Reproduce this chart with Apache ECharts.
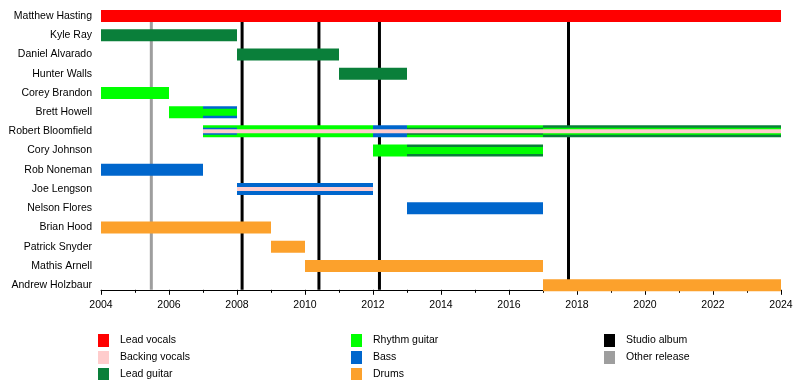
<!DOCTYPE html>
<html>
<head>
<meta charset="utf-8">
<script src="https://cdn.jsdelivr.net/npm/echarts@6/dist/echarts.min.js"></script>
<style>html,body{margin:0;padding:0;background:#fff}#c{width:800px;height:380px}</style>
</head>
<body>
<div id="c"></div>
<script>
const members = ["Matthew Hasting","Kyle Ray","Daniel Alvarado","Hunter Walls","Corey Brandon","Brett Howell","Robert Bloomfield","Cory Johnson","Rob Noneman","Joe Lengson","Nelson Flores","Brian Hood","Patrick Snyder","Mathis Arnell","Andrew Holzbaur"];
const roles = ["Lead vocals","Backing vocals","Lead guitar","Rhythm guitar","Bass","Drums"];
const roleColors = ["#FF0000","#FFCCCC","#0A7F3A","#00FF00","#0066CC","#FCA12C"];
const releaseTypes = ["Studio album","Other release"];
const releaseColors = ["#000000","#9E9E9E"];
const xTicks = [2004,2006,2008,2010,2012,2014,2016,2018,2020,2022,2024];

// [member, role, from, till]
const primaryBars = [
  ["Matthew Hasting","Lead vocals",2004,2024],
  ["Kyle Ray","Lead guitar",2004,2008],
  ["Daniel Alvarado","Lead guitar",2008,2011],
  ["Hunter Walls","Lead guitar",2011,2013],
  ["Corey Brandon","Rhythm guitar",2004,2006],
  ["Brett Howell","Rhythm guitar",2006,2007],
  ["Brett Howell","Bass",2007,2008],
  ["Robert Bloomfield","Rhythm guitar",2007,2012],
  ["Robert Bloomfield","Bass",2012,2013],
  ["Robert Bloomfield","Rhythm guitar",2013,2017],
  ["Robert Bloomfield","Lead guitar",2017,2024],
  ["Cory Johnson","Rhythm guitar",2012,2013],
  ["Cory Johnson","Lead guitar",2013,2017],
  ["Rob Noneman","Bass",2004,2007],
  ["Joe Lengson","Bass",2008,2012],
  ["Nelson Flores","Bass",2013,2017],
  ["Brian Hood","Drums",2004,2009],
  ["Patrick Snyder","Drums",2009,2010],
  ["Mathis Arnell","Drums",2010,2017],
  ["Andrew Holzbaur","Drums",2017,2024]
];
const secondaryBars = [
  ["Brett Howell","Rhythm guitar",2007,2008],
  ["Robert Bloomfield","Bass",2007,2008],
  ["Robert Bloomfield","Rhythm guitar",2008,2012],
  ["Robert Bloomfield","Bass",2012,2013],
  ["Robert Bloomfield","Lead guitar",2013,2017],
  ["Robert Bloomfield","Rhythm guitar",2017,2024],
  ["Cory Johnson","Rhythm guitar",2013,2017]
];
const backingBars = [
  ["Robert Bloomfield","Backing vocals",2007,2024],
  ["Joe Lengson","Backing vocals",2008,2012]
];
// [year, release type]
const releases = [
  [2005.48,"Other release"],
  [2008.15,"Studio album"],
  [2010.41,"Studio album"],
  [2012.19,"Studio album"],
  [2017.75,"Studio album"]
];

const AXIS_SHIFT = -5;
const FONT = "'Liberation Sans', Arial, sans-serif";
const FS = 10.5;

function barSeries(data, h, z) {
  return {
    type: 'custom', z: z, clip: true,
    encode: { x: [2, 3], y: 0 },
    data: data.map(d => [d[0], roles.indexOf(d[1]), d[2], d[3]]),
    renderItem: (params, api) => {
      const row = api.value(0);
      const p1 = api.coord([api.value(2), row]);
      const p2 = api.coord([api.value(3), row]);
      return {
        type: 'rect',
        shape: { x: p1[0], y: p1[1] - h / 2, width: p2[0] - p1[0], height: h },
        style: { fill: roleColors[api.value(1)] }
      };
    }
  };
}

const legendEntries = roles.map((r, i) => [r, roleColors[i]])
  .concat(releaseTypes.map((r, i) => [r, releaseColors[i]]));
const colX = [98, 351, 604];
const rowY = [334, 351, 368];
const graphic = [];
legendEntries.forEach((e, i) => {
  const cx = colX[Math.floor(i / 3)], cy = rowY[i % 3];
  graphic.push({ type: 'rect', left: cx, top: cy, shape: { width: 11, height: 13 }, style: { fill: e[1] } });
  graphic.push({ type: 'text', left: cx + 22, top: cy + 1, style: { text: e[0], fill: '#000', font: FS + 'px ' + FONT } });
});

const chart = echarts.init(document.getElementById('c'), null, { renderer: 'canvas' });
chart.setOption({
  animation: false,
  backgroundColor: '#fff',
  grid: { left: 101, right: 19, top: 6.4, height: 288.4, containLabel: false },
  xAxis: {
    type: 'value', min: 2004, max: 2024, interval: 2, offset: AXIS_SHIFT,
    axisLine: { show: true, lineStyle: { color: '#000', width: 1 } },
    axisTick: { show: true, length: 5, lineStyle: { color: '#000' } },
    minorTick: { show: true, splitNumber: 2, length: 3, lineStyle: { color: '#000' } },
    splitLine: { show: false },
    axisLabel: { color: '#000', fontSize: FS, fontFamily: FONT, margin: 10,
      formatter: v => xTicks.indexOf(v) >= 0 ? String(v) : '' }
  },
  yAxis: {
    type: 'category', data: members, inverse: true,
    axisLine: { show: false }, axisTick: { show: false }, splitLine: { show: false },
    axisLabel: { color: '#000', fontSize: FS, fontFamily: FONT, margin: 9 }
  },
  series: [
    {
      type: 'custom', z: 1, clip: false,
      encode: { x: 0 },
      data: releases.map(r => [r[0], releaseTypes.indexOf(r[1])]),
      renderItem: (params, api) => {
        const p = api.coord([api.value(0), 0]);
        const top = p[1];
        const bottom = params.coordSys.y + params.coordSys.height + AXIS_SHIFT;
        return {
          type: 'line',
          shape: { x1: p[0], y1: top, x2: p[0], y2: bottom },
          style: { stroke: releaseColors[api.value(1)], lineWidth: 3 }
        };
      }
    },
    barSeries(primaryBars, 12, 2),
    barSeries(secondaryBars, 7, 3),
    barSeries(backingBars, 4, 4)
  ],
  graphic: graphic
});
</script>
</body>
</html>
